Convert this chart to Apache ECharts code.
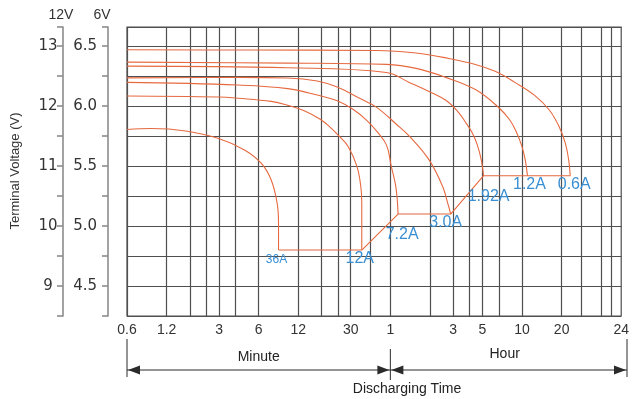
<!DOCTYPE html>
<html><head><meta charset="utf-8">
<script src="https://cdn.jsdelivr.net/npm/echarts@6/dist/echarts.min.js"></script>
<style>html,body{margin:0;padding:0;background:#fff}#c{width:632px;height:399px}</style>
</head><body><div id="c"></div>
<script>
// Discharge time in minutes, terminal voltage on the 6V scale
const currents = ['36A', '12A', '7.2A', '3.0A', '1.92A', '1.2A', '0.6A'];
const t36 = [0.6, 0.914, 1.67, 2.98, 4.72, 6.29, 7.47, 8.29, 8.49, 8.49];
const v36 = [5.805, 5.813, 5.793, 5.73, 5.633, 5.522, 5.384, 5.19, 5.024, 4.8];
const t12 = [0.6, 2.98, 4.2, 7.47, 9.97, 13.3, 17.6, 20.9, 24.5, 28.6, 33.4, 35.8, 36.4, 36.4];
const v12 = [6.084, 6.076, 6.066, 6.04, 6.008, 5.962, 5.891, 5.825, 5.75, 5.666, 5.50, 5.33, 5.19, 4.8];
const t72 = [0.6, 4.2, 9.97, 17.6, 23.7, 31.2, 39.7, 47.2, 56.1, 60.7, 66.1, 68.7];
const v72 = [6.198, 6.176, 6.146, 6.086, 6.045, 5.974, 5.882, 5.791, 5.675, 5.508, 5.325, 5.1];
const t30 = [0.6, 4.2, 9.97, 16.7, 23.7, 35, 47.2, 66.7, 86.4, 118.5, 150, 165, 172.4];
const v30 = [6.236, 6.24, 6.235, 6.21, 6.159, 6.065, 5.99, 5.849, 5.733, 5.55, 5.328, 5.176, 5.1];
const t192 = [0.6, 9.97, 56.1, 83.5, 117.9, 158.2, 194.6, 223.4, 252.1, 274.9, 294.5, 306.5];
const v192 = [6.334, 6.32, 6.281, 6.198, 6.123, 6.049, 5.957, 5.866, 5.774, 5.675, 5.55, 5.42];
const t120 = [0.6, 9.97, 56.1, 94.2, 158.2, 265.5, 395, 486, 548.5, 598, 635.3, 660];
const v120 = [6.367, 6.359, 6.348, 6.315, 6.24, 6.138, 5.993, 5.882, 5.774, 5.666, 5.55, 5.42];
const t06 = [0.6, 5, 47.2, 94.2, 166.5, 265.5, 375, 530, 748, 970, 1153, 1279, 1358, 1394];
const v06 = [6.47, 6.468, 6.464, 6.443, 6.398, 6.348, 6.29, 6.198, 6.09, 5.966, 5.824, 5.691, 5.55, 5.42];
// cut-off line joining the ends of the curves
const tCut = [8.49, 36.4, 68.7, 172.4, 306.5, 1394];
const vCut = [4.8, 4.8, 5.1, 5.1, 5.42, 5.42];

// axis ticks / labels
const xGridValues = [0.6, 1.2, 1.8, 2.4, 3, 4, 6, 12, 18, 24, 30, 42, 60, 120, 180, 240, 300, 400, 600, 1200, 1700, 2400, 2850];
const xLabelValues = [0.6, 1.2, 3, 6, 12, 30, 60, 180, 300, 600, 1200, 3400];
const xLabelTexts = ['0.6', '1.2', '3', '6', '12', '30', '1', '3', '5', '10', '20', '24'];
const yLabelValues = [4.5, 5.0, 5.5, 6.0, 6.5];
const y6Labels = ['4.5', '5.0', '5.5', '6.0', '6.5'];
const y12Labels = ['9', '10', '11', '12', '13'];

const FONT = "'Liberation Sans', Arial, sans-serif";
const CURVE = '#e6693f';
const BLUE = '#3a8fd2';
const GRID = '#4f4f4f';
const AXIS = '#8c8c8c';

const curveT = [t36, t12, t72, t30, t192, t120, t06];
const curveV = [v36, v12, v72, v30, v192, v120, v06];
const labelOffsets = [[-2, 10], [-2, 9], [4, 21], [-5, 9], [5, 21], [2, 9], [4, 9]];
const labelSizes = [12, 16, 16, 16, 16, 16, 16];

function pair(ts, vs) { return ts.map((t, i) => [t, vs[i]]); }
function findLabel(vals, texts, v) {
  for (let i = 0; i < vals.length; i++) {
    if (Math.abs(vals[i] - v) < 1e-6 * Math.max(1, Math.abs(v))) return texts[i];
  }
  return '';
}

const series = curveT.map((ts, k) => {
  const data = pair(ts, curveV[k]);
  const last = data[data.length - 1];
  return {
    name: currents[k], type: 'line', data: data,
    smooth: 0.4, showSymbol: false, symbol: 'none',
    lineStyle: { color: CURVE, width: 1.1 }, z: 3,
    markPoint: {
      symbol: 'circle', symbolSize: 1, itemStyle: { color: 'rgba(0,0,0,0)' },
      data: [{ coord: last }],
      label: {
        show: true, position: 'inside', formatter: currents[k], offset: labelOffsets[k],
        color: BLUE, fontSize: labelSizes[k], fontFamily: FONT
      }
    }
  };
});
series.push({
  name: 'cutoff', type: 'line', data: pair(tCut, vCut), showSymbol: false, symbol: 'none',
  lineStyle: { color: CURVE, width: 1.1 }, z: 3
});

const chart = echarts.init(document.getElementById('c'), null, { renderer: 'canvas' });
const option = {
  animation: false,
  backgroundColor: '#fff',
  grid: { left: 127, right: 5, top: 27, bottom: 83, show: true, borderColor: GRID, borderWidth: 1.2, backgroundColor: 'transparent' },
  xAxis: {
    type: 'log', logBase: 10, min: 0.6, max: 3400,
    axisLine: { show: false },
    axisTick: { show: true, length: 0, customValues: xGridValues },
    minorTick: { show: false },
    axisLabel: {
      customValues: xLabelValues, margin: 7, color: '#333', fontSize: 14, fontFamily: FONT,
      hideOverlap: false, showMinLabel: true, showMaxLabel: true,
      formatter: v => findLabel(xLabelValues, xLabelTexts, v)
    },
    splitLine: { show: true, lineStyle: { color: GRID, width: 1.2 } },
    minorSplitLine: { show: false }
  },
  yAxis: [
    {
      type: 'value', position: 'left', offset: 19, min: 4.25, max: 6.66, interval: 0.25,
      name: '6V', nameLocation: 'end', nameGap: 12,
      nameTextStyle: { color: '#333', fontSize: 14, fontFamily: FONT, align: 'center', verticalAlign: 'middle', padding: [0, 12, 0, 0] },
      axisLine: { show: true, lineStyle: { color: AXIS, width: 1.6 } },
      axisTick: { show: true, length: 6, lineStyle: { color: AXIS, width: 1.6 } },
      axisLabel: {
        margin: 11, color: '#333', fontSize: 15, fontFamily: "'DejaVu Sans', sans-serif",
        showMinLabel: true, showMaxLabel: true,
        formatter: v => findLabel(yLabelValues, y6Labels, v)
      },
      splitLine: { show: true, lineStyle: { color: GRID, width: 1.2 } }
    },
    {
      type: 'value', position: 'left', offset: 64, min: 4.25, max: 6.66, interval: 0.25,
      name: '12V', nameLocation: 'end', nameGap: 12,
      nameTextStyle: { color: '#333', fontSize: 14, fontFamily: FONT, align: 'center', verticalAlign: 'middle', padding: [0, 4, 0, 0] },
      axisLine: { show: true, lineStyle: { color: AXIS, width: 1.6 } },
      axisTick: { show: true, length: 6, lineStyle: { color: AXIS, width: 1.6 } },
      axisLabel: {
        margin: 15, align: 'center', color: '#333', fontSize: 15, fontFamily: "'DejaVu Sans', sans-serif",
        formatter: v => findLabel(yLabelValues, y12Labels, v)
      },
      splitLine: { show: false }
    }
  ],
  series: series
};
chart.setOption(option);

// annotations below the axis
const xL = chart.convertToPixel({ xAxisIndex: 0 }, 0.6);
const xM = chart.convertToPixel({ xAxisIndex: 0 }, 60);
const xR = 632 - 5;
const ay = 370;
const ink = '#2b2b2b';
function head(tipX, dir) {
  return { type: 'polygon', shape: { points: [[tipX, ay], [tipX + dir * 12, ay - 4.5], [tipX + dir * 12, ay + 4.5]] }, style: { fill: ink } };
}
chart.setOption({
  graphic: [
    { type: 'line', shape: { x1: xL, y1: 339, x2: xL, y2: 377 }, style: { stroke: ink, lineWidth: 1 } },
    { type: 'line', shape: { x1: xM, y1: 349, x2: xM, y2: 380 }, style: { stroke: ink, lineWidth: 1 } },
    { type: 'line', shape: { x1: xR, y1: 339, x2: xR, y2: 377 }, style: { stroke: ink, lineWidth: 1 } },
    { type: 'line', shape: { x1: xL, y1: ay, x2: xM, y2: ay }, style: { stroke: ink, lineWidth: 1 } },
    { type: 'line', shape: { x1: xM, y1: ay, x2: xR, y2: ay }, style: { stroke: ink, lineWidth: 1 } },
    head(xL + 1, 1), head(xM - 1, -1), head(xM + 1, 1), head(xR - 1, -1),
    { type: 'text', x: (xL + xM) / 2, y: 357, style: { text: 'Minute', font: '14px ' + FONT, fill: '#222', align: 'center', verticalAlign: 'middle' } },
    { type: 'text', x: (xM + xR) / 2 - 4, y: 354, style: { text: 'Hour', font: '14px ' + FONT, fill: '#222', align: 'center', verticalAlign: 'middle' } },
    { type: 'text', x: 407, y: 389, style: { text: 'Discharging Time', font: '14px ' + FONT, fill: '#222', align: 'center', verticalAlign: 'middle' } },
    { type: 'text', x: 15, y: 171, rotation: Math.PI / 2, style: { text: 'Terminal Voltage (V)', font: '13px ' + FONT, fill: '#333', align: 'center', verticalAlign: 'middle' } }
  ]
});
</script>
</body></html>
